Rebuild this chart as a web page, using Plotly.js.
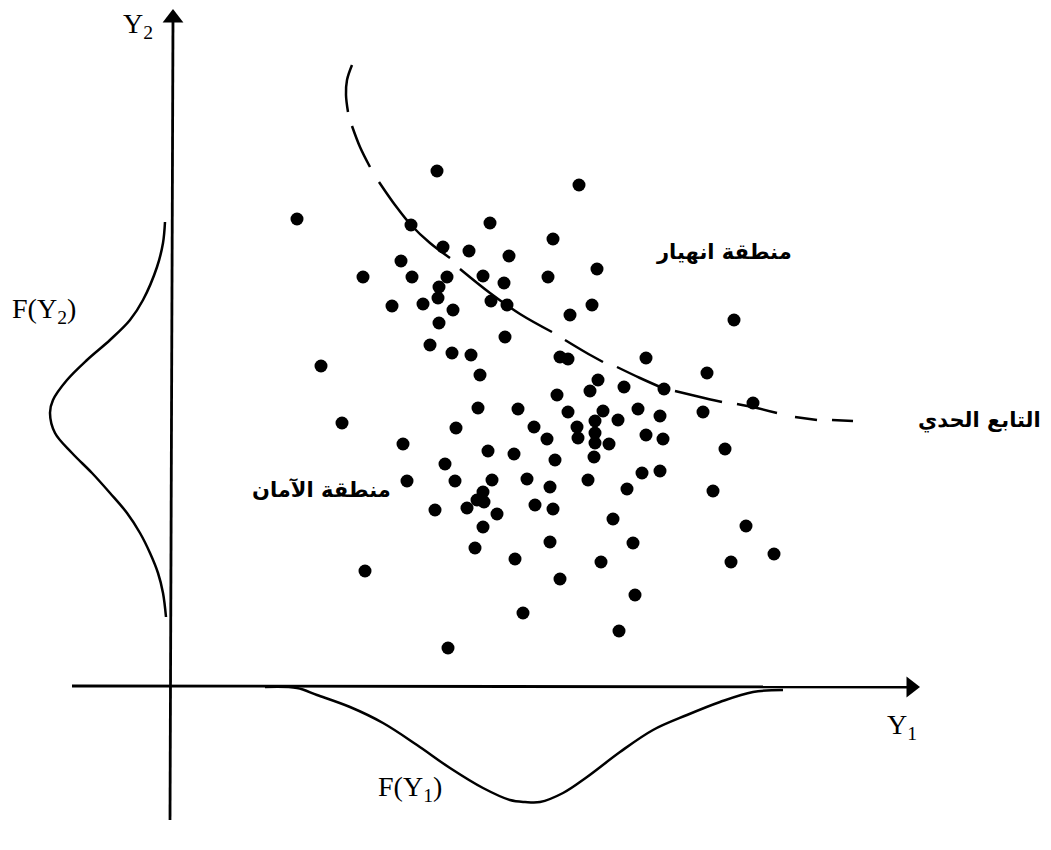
<!DOCTYPE html>
<html>
<head>
<meta charset="utf-8">
<script src="https://cdn.plot.ly/plotly-3.0.1.min.js"></script>
<style>html,body{margin:0;padding:0;background:#fff;}#chart{width:1051px;height:850px;}</style>
</head>
<body>
<div id="chart"></div>
<script>
// Scatter of realisations (Y1, Y2)
const pointsY1 = [266,126,240,319,272,298,338,230,192,241,276,312,333,268,267,221,252,282,320,336,268,334,259,281,300,309,150,307,347,
  408,382,377,426,421,399,563,389,397,475,536,427,419,453,493,386,582,
  363,171,285,232,317,343,274,236,284,321,356,312,306,313,264,296,326,364,312,304,344,194,352,277,
  397,432,467,447,489,532,406,407,424,424,424,438,475,492,376,554,384,423,471,489,379,417,456,542,382,442,575,379,462,430,560,603,389,464,448];
const pointsY2 = [515,467,461,463,439,435,430,425,409,409,409,410,403,399,388,380,382,376,385,381,363,349,341,333,331,311,320,278,277,
  501,447,409,417,381,371,366,329,327,328,313,306,295,299,297,291,283,
  259,263,258,242,235,232,222,205,205,206,207,194,186,184,176,178,172,181,159,138,127,115,73,38,
  274,275,277,266,270,274,259,248,265,253,243,242,251,247,247,237,226,229,213,215,199,206,197,195,177,167,160,144,143,124,124,132,107,91,55];

// Limit-state function (dashed), segments separated by null
const limitY1 = [181,176,175,177,null,181,189,199,null,208,224,240,259,279,null,289,319,349,381,null,394,414,432,null,446,469,496,null,504,529,551,null,566,586,606,null,624,646,null,661,682];
const limitY2 = [621,606,591,574,null,560,539,519,null,504,481,461,443,428,null,417,393,372,354,null,346,334,324,null,319,308,296,null,295,289,284,null,282,278,273,null,269,266,null,266,265];

// Density F(Y2) drawn against the Y2 axis
const densY2x = [-6,-8,-14,-28,-41,-61,-84,-104,-118,-121,-116,-99,-79,-61,-44,-31,-21,-13,-8,-5];
const densY2y = [464,443,419,386,366,346,326,306,286,273,253,233,213,193,173,153,133,113,93,69];

// Density F(Y1) drawn below the Y1 axis
const densY1x = [94,126,146,179,212,246,279,312,339,354,369,392,416,449,482,516,549,582,612];
const densY1y = [-1,-2,-9,-21,-37,-59,-82,-102,-114,-116,-116,-107,-91,-66,-44,-29,-16,-6,-4];

// Coordinate axes (Y1 horizontal, Y2 vertical)
const axisY1x = [-99, 740];
const axisY1y = [0, -1];
const axisY2x = [-1, 2];
const axisY2y = [-134, 668];

// Labels
const labelTexts = ['Y<sub>2</sub>','Y<sub>1</sub>','F(Y<sub>2</sub>)','F(Y<sub>1</sub>)'];
const arabicTexts = ['منطقة انهيار','التابع الحدي','منطقة الآمان'];

const traces = [
  {x: axisY1x, y: axisY1y, mode:'lines', line:{color:'#000', width:2.8}, hoverinfo:'skip'},
  {x: axisY2x, y: axisY2y, mode:'lines', line:{color:'#000', width:2.8}, hoverinfo:'skip'},
  {x: [axisY1x[1]], y: [axisY1y[1]], mode:'markers', marker:{symbol:'triangle-right', size:18, color:'#000', line:{width:0}}, hoverinfo:'skip'},
  {x: [axisY2x[1]], y: [axisY2y[1]], mode:'markers', marker:{symbol:'triangle-up', size:18, color:'#000', line:{width:0}}, hoverinfo:'skip'},
  {x: densY2x, y: densY2y, mode:'lines', line:{color:'#000', width:2.5, shape:'spline'}, hoverinfo:'skip'},
  {x: densY1x, y: densY1y, mode:'lines', line:{color:'#000', width:2.5, shape:'spline'}, hoverinfo:'skip'},
  {x: limitY1, y: limitY2, mode:'lines', connectgaps:false, line:{color:'#000', width:2.5, shape:'spline'}, hoverinfo:'skip'},
  {x: pointsY1, y: pointsY2, mode:'markers', marker:{color:'#000', size:13, line:{width:0}}, hoverinfo:'skip'}
];

const serif = {family:'"Liberation Serif", "DejaVu Serif", serif', size:28, color:'#000'};
const arab = {family:'"DejaVu Sans", "Noto Sans", sans-serif', size:21, color:'#000'};

const ann = [
  {x:-33, y:661, text:labelTexts[0], showarrow:false, font:serif},
  {x:731, y:-40, text:labelTexts[1], showarrow:false, font:serif},
  {x:-127, y:376, text:labelTexts[2], showarrow:false, font:serif},
  {x:239, y:-102, text:labelTexts[3], showarrow:false, font:serif},
  {x:553, y:434, text:'<b>'+arabicTexts[0]+'</b>', showarrow:false, font:arab},
  {x:808, y:266, text:'<b>'+arabicTexts[1]+'</b>', showarrow:false, font:arab},
  {x:150, y:196, text:'<b>'+arabicTexts[2]+'</b>', showarrow:false, font:arab}
];

const layout = {
  width:1051, height:850,
  margin:{l:0, r:0, t:0, b:0},
  paper_bgcolor:'#fff', plot_bgcolor:'#fff',
  showlegend:false,
  xaxis:{range:[-171, 880], visible:false, fixedrange:true},
  yaxis:{range:[-164, 686], visible:false, fixedrange:true},
  annotations: ann
};

Plotly.newPlot('chart', traces, layout, {displayModeBar:false, staticPlot:true});
</script>
</body>
</html>
